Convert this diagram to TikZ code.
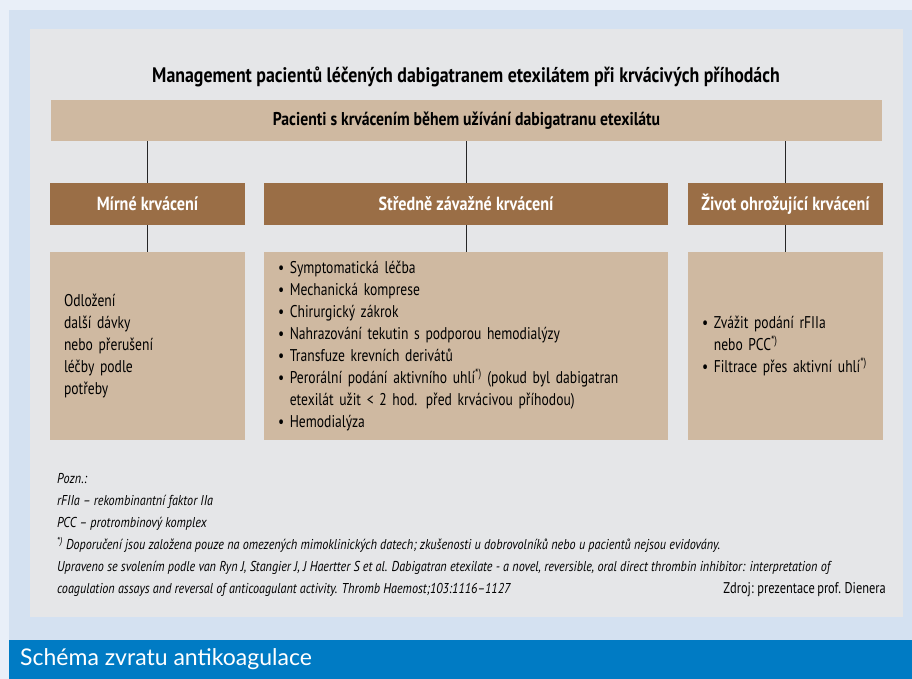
\documentclass[tikz,border=0pt]{standalone}
\usepackage{fontspec}
\setmainfont{PT Sans}[UprightFeatures={FakeStretch=0.8, WordSpace=0.75}, BoldFeatures={FakeStretch=0.85}, ItalicFeatures={FakeStretch=0.85}]
\newfontfamily\captionfont{Lato}
\usetikzlibrary{positioning}

\definecolor{pageblue}{HTML}{E9EFF8}
\definecolor{panelblue}{HTML}{D4E1F1}
\definecolor{panelgrey}{HTML}{E5E6E8}
\definecolor{boxtan}{HTML}{CFB9A1}
\definecolor{levelbrown}{HTML}{9A6E46}
\definecolor{barblue}{HTML}{007BC4}

\tikzstyle{patients} = [rectangle, fill=boxtan, text centered, minimum width=831pt, minimum height=41pt, font=\bfseries\fontsize{18.5}{20}\selectfont]
\tikzstyle{level} = [rectangle, fill=levelbrown, text=white, text centered, minimum height=42pt, font=\bfseries\fontsize{19}{20}\selectfont]
\tikzstyle{care} = [rectangle, fill=boxtan, align=left, minimum height=188pt, inner xsep=14pt, font=\fontsize{17}{22}\selectfont]
\tikzstyle{line} = [draw, line width=0.8pt, black!85]

\begin{document}
\begin{tikzpicture}[x=1pt, y=-1pt]
	\useasboundingbox (0,0) rectangle (912,679);
	% backgrounds
	\fill[pageblue] (0,0) rectangle (912,679);
	\fill[panelblue] (9,10) rectangle (912,640);
	\fill[panelgrey] (30,29) rectangle (903,617);
	\fill[barblue] (9,640) rectangle (912,679);

	\node[font=\bfseries\fontsize{21}{24}\selectfont] (title) at (466,77) {Management pacientů léčených dabigatranem etexilátem při krvácivých příhodách};
	\node[patients] (patients) at (466.5,120.5) {Pacienti s krvácením během užívání dabigatranu etexilátu};

	\node[level, minimum width=195pt] (mild) at (147.5,204) {Mírné krvácení};
	\node[level, minimum width=404pt] (moderate) at (466,204) {Středně závažné krvácení};
	\node[level, minimum width=195pt] (severe) at (785.5,204) {Život ohrožující krvácení};

	\node[care, text width=167pt] (mildcare) at (147.5,346) {Odložení\\ další dávky\\ nebo přerušení\\ léčby podle\\ potřeby};
	\node[care, text width=376pt] (moderatecare) at (466,346) {\textbullet~Symptomatická léčba\\
		\textbullet~Mechanická komprese\\
		\textbullet~Chirurgický zákrok\\
		\textbullet~Nahrazování tekutin s podporou hemodialýzy\\
		\textbullet~Transfuze krevních derivátů\\
		\textbullet~Perorální podání aktivního uhlí\textsuperscript{*)} (pokud byl dabigatran\\
		\phantom{\textbullet~}etexilát užit < 2 hod. před krvácivou příhodou)\\
		\textbullet~Hemodialýza};
	\node[care, text width=167pt] (severecare) at (785.5,346) {\textbullet~Zvážit podání rFIIa\\
		\phantom{\textbullet~}nebo PCC\textsuperscript{*)}\\
		\textbullet~Filtrace přes aktivní uhlí\textsuperscript{*)}};

	\path[line] (mild.north |- patients.south) -- (mild.north);
	\path[line] (moderate.north |- patients.south) -- (moderate.north);
	\path[line] (severe.north |- patients.south) -- (severe.north);
	\path[line] (mild) -- (mildcare);
	\path[line] (moderate) -- (moderatecare);
	\path[line] (severe) -- (severecare);

	\node[anchor=north west, align=left, inner sep=0pt, font=\itshape\fontsize{14.3}{22}\selectfont] (notes) at (57,473) {Pozn.:\\
		rFIIa – rekombinantní faktor IIa\\
		PCC – protrombinový komplex\\
		\textsuperscript{*)} Doporučení jsou založena pouze na omezených mimoklinických datech; zkušenosti u dobrovolníků nebo u pacientů nejsou evidovány.\\
		Upraveno se svolením podle van Ryn J, Stangier J, J Haertter S et al. Dabigatran etexilate - a novel, reversible, oral direct thrombin inhibitor: interpretation of\\
		coagulation assays and reversal of anticoagulant activity. Thromb Haemost;103:1116–1127};
	\node[anchor=base east, inner sep=0pt, font=\fontsize{15.5}{22}\selectfont] (source) at (notes.base east -| 886,0) {Zdroj: prezentace prof. Dienera};

	\node[anchor=west, inner sep=0pt, text=white, font=\captionfont\fontsize{23}{26}\selectfont] (caption) at (20,659) {Schéma zvratu antikoagulace};
\end{tikzpicture}
\end{document}
